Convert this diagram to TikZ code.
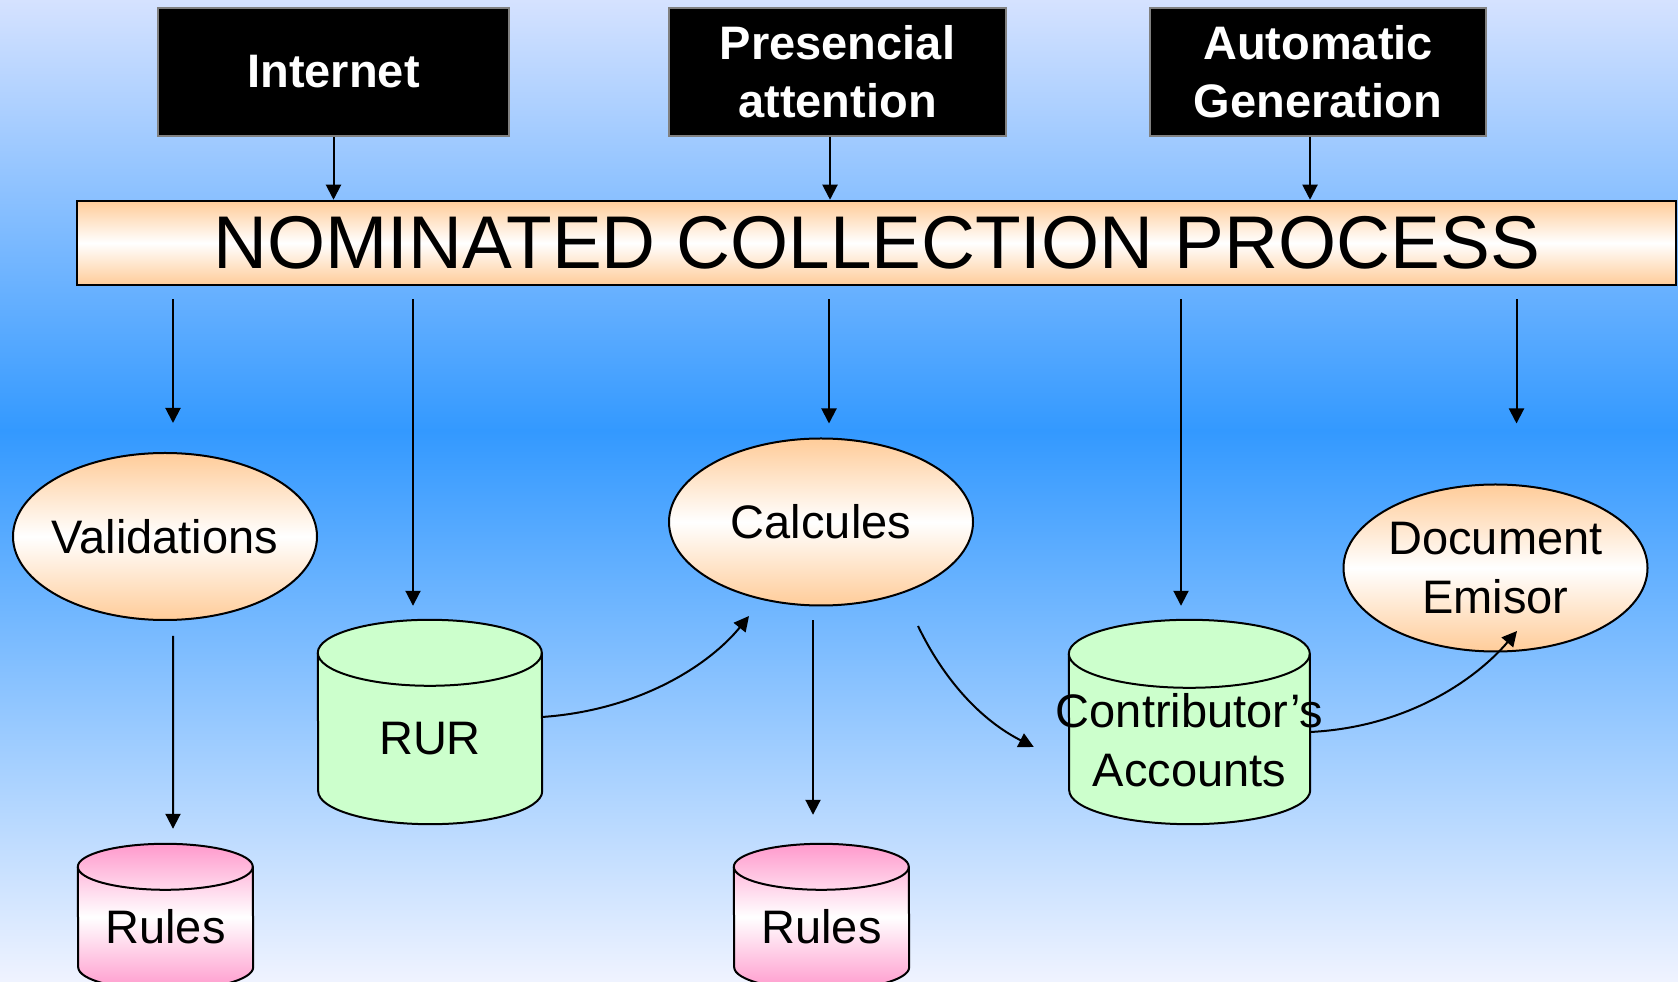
\documentclass[tikz,border=0pt]{standalone}
\usepackage{fontspec}
\setmainfont{Liberation Sans}
\usetikzlibrary{shapes.geometric,arrows.meta,calc}

\definecolor{skytop}{RGB}{213,226,255}
\definecolor{skymid}{RGB}{51,153,255}
\definecolor{skybot}{RGB}{239,243,255}
\definecolor{peach}{RGB}{255,204,153}
\definecolor{mint}{RGB}{204,255,204}
\definecolor{rose}{RGB}{255,153,204}
\definecolor{frame}{RGB}{128,128,128}

\tikzset{
  channel/.style={rectangle, fill=black, draw=frame, line width=2.5bp, text=white,
    font=\bfseries\fontsize{47bp}{58bp}\selectfont, align=center, inner sep=0pt},
  banner/.style={rectangle, draw=black, line width=2.5bp, top color=peach, bottom color=peach,
    middle color=white, font=\fontsize{74.7bp}{80bp}\selectfont, inner sep=0pt},
  task/.style={ellipse, draw=black, line width=2bp, top color=peach, bottom color=peach,
    middle color=white, font=\fontsize{47bp}{59bp}\selectfont, align=center,
    inner xsep=-30bp, inner ysep=0pt, minimum width=304bp, minimum height=167bp},
  store/.style={rectangle, inner sep=0pt},
  storelabel/.style={font=\fontsize{47bp}{59bp}\selectfont, align=center, inner sep=0pt},
  greendrum/.style={draw=black, line width=2bp, fill=mint},
  pinkdrum/.style={draw=black, line width=2bp, top color=rose, bottom color=rose, middle color=white},
  flow/.style={line width=2bp, -{Triangle[length=15bp,width=15bp]}},
}

% database drum drawn over the box of a named node:
% #1 node, #2 half width, #3 cap radius, #4 style
\newcommand\drawdrum[4]{%
  \draw[#4] ([yshift=-#3bp]#1.north west)
      arc[start angle=180, end angle=0, x radius=#2bp, y radius=#3bp]
      -- ([yshift=#3bp]#1.south east)
      arc[start angle=0, end angle=-180, x radius=#2bp, y radius=#3bp] -- cycle;
  \draw[draw=black, line width=2bp] ([yshift=-#3bp]#1.north west)
      arc[start angle=180, end angle=360, x radius=#2bp, y radius=#3bp];
}

\begin{document}
\begin{tikzpicture}[x=1bp, y=1bp]
\useasboundingbox (0,0) rectangle (1678,981);

% sky background
\shade[top color=skytop, bottom color=skymid] (0,550) rectangle (1678,981);
\shade[top color=skymid, bottom color=skybot] (0,0) rectangle (1678,551);

% input channels
\node[channel, minimum width=351bp, minimum height=128bp] (inet) at (333.5,909) {Internet};
\node[channel, minimum width=337bp, minimum height=128bp] (pres) at (837.5,909) {Presencial\\attention};
\node[channel, minimum width=336bp, minimum height=128bp] (autogen) at (1318,909) {Automatic\\Generation};

% main process bar
\node[banner, minimum width=1599bp, minimum height=84bp] (bar) at (876.5,738) {NOMINATED COLLECTION PROCESS};

% processes
\node[task] (val) at (165,444.5) {Validations};
\node[task] (calcs) at (821,459) {Calcules};
\node[task] (doc) at (1495.5,413) {Document\\Emisor};

% data stores
\node[store, minimum width=224bp, minimum height=204bp] (rur) at (430,259) {};
\node[store, minimum width=241bp, minimum height=204bp] (acct) at (1189.5,259) {};
\node[store, minimum width=175bp, minimum height=146bp] (rulesA) at (165.5,64) {};
\node[store, minimum width=175bp, minimum height=146bp] (rulesB) at (821.5,64) {};

\drawdrum{rur}{112}{33}{greendrum}
\drawdrum{acct}{120.5}{34}{greendrum}
\drawdrum{rulesA}{87.5}{23}{pinkdrum}
\drawdrum{rulesB}{87.5}{23}{pinkdrum}

\node[storelabel] (rurlabel) at ([yshift=-17bp]rur.center) {RUR};
\node[storelabel] (acctlabel) at ([yshift=-18bp]acct.center) {Contributor’s\\Accounts};
\node[storelabel] (rulesAlabel) at ([yshift=-10bp]rulesA.center) {Rules};
\node[storelabel] (rulesBlabel) at ([yshift=-10bp]rulesB.center) {Rules};

% channels into the process
\coordinate (presout) at ([xshift=-7.5bp]pres.south);
\coordinate (autoout) at ([xshift=-8bp]autogen.south);
\draw[flow] (inet.south) -- (inet.south |- bar.north);
\draw[flow] (presout) -- (presout |- bar.north);
\draw[flow] (autoout) -- (autoout |- bar.north);

% process into its parts
\draw[flow] ($(bar.south -| val.north)+(8,-13)$) -- ($(val.north)+(8,29)$);
\draw[flow] ($(bar.south -| rur.north)+(-17,-13)$) -- ($(rur.north)+(-17,14)$);
\draw[flow] ($(bar.south -| calcs.north)+(8,-13)$) -- ($(calcs.north)+(8,14)$);
\draw[flow] ($(bar.south -| acct.north)+(-8.5,-13)$) -- ($(acct.north)+(-8.5,14)$);
\draw[flow] ($(bar.south -| doc.north)+(21,-13)$) -- ($(doc.north)+(21,60)$);

% rules lookups
\draw[flow] ($(val.south)+(8,-15)$) -- ($(rulesA.north)+(7.5,15)$);
\draw[flow] ($(calcs.south)+(-8,-14)$) -- ($(rulesB.north)+(-8.5,29)$);

% curved data flows
\coordinate (calcin) at ($(calcs.center)+(-72,-94)$);
\coordinate (calcout) at ($(calcs.center)+(97,-104)$);
\coordinate (acctin) at ($(acct.west)+(-35,-25)$);
\coordinate (docin) at ($(doc.center)+(21.5,-63)$);
\draw[flow] ([yshift=5bp]rur.east) .. controls +(100,7) and +(-38,-47) .. (calcin);
\draw[flow] (calcout) .. controls +(26,-54) and +(-53,27) .. (acctin);
\draw[flow] ([yshift=-10bp]acct.east) .. controls +(100,5) and +(-39,-46) .. (docin);
\end{tikzpicture}
\end{document}
